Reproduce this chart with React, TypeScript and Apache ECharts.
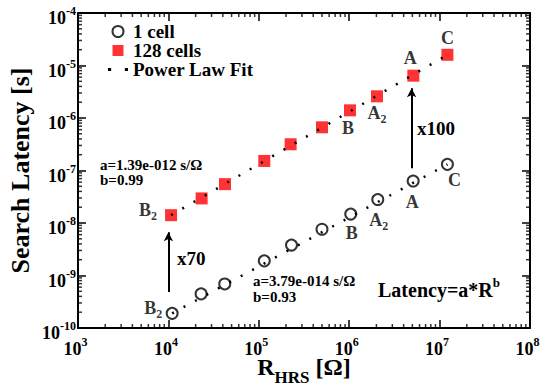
import React, { useEffect, useRef } from 'react';
import * as echarts from 'echarts';

// ---- data ----
const resistance1 = [1.1e4, 2.3e4, 4.2e4, 1.15e5, 2.3e5, 5.0e5, 1.04e6, 2.07e6, 5.1e6, 1.22e7];
const latency1 = [1.9e-10, 4.46e-10, 6.9e-10, 1.9e-9, 3.8e-9, 7.6e-9, 1.48e-8, 2.8e-8, 6.3e-8, 1.31e-7];
const resistance128 = [1.07e4, 2.33e4, 4.23e4, 1.15e5, 2.25e5, 5.0e5, 1.02e6, 2.03e6, 5.12e6, 1.22e7];
const latency128 = [1.41e-8, 2.94e-8, 5.5e-8, 1.52e-7, 3.16e-7, 6.65e-7, 1.4e-6, 2.59e-6, 6.4e-6, 1.6e-5];
const pointTags = ['B2', '', '', '', '', '', 'B', 'A2', 'A', 'C'];

// power-law fit end points
const fitR1 = [1.1e4, 1.22e7];
const fitLatency1 = [1.9e-10, 1.31e-7];
const fitR128 = [1.07e4, 1.22e7];
const fitLatency128 = [1.41e-8, 1.6e-5];

// arrows (x, from, to)
const arrowR = [1.0e4, 4.9e6];
const arrowFrom = [4.85e-10, 1.1e-7];
const arrowTo = [6.7e-9, 3.67e-6];

const xMin = 1e3;
const xMax = 1e8;
const yMin = 1e-10;
const yMax = 1e-4;

// tag label offsets (px) – style, not data
const tagOffset1: Record<string, number[]> = { B2: [-19, -5], B: [1, 19], A2: [1, 20], A: [-1, 21], C: [7, 16] };
const tagOffset128: Record<string, number[]> = { B2: [-23, -5], B: [-2, 18], A2: [0, 17], A: [-3, -18], C: [0, -17] };

const FONT = '"Liberation Serif", "Times New Roman", serif';

function tagText(t: string) {
  if (t.length === 2) return `{m|${t[0]}}{s|${t[1]}}`;
  return `{m|${t}}`;
}

const tagRich = {
  m: { fontSize: 18, fontWeight: 'bold', fontFamily: FONT, color: '#000', lineHeight: 24 },
  s: { fontSize: 12, fontWeight: 'bold', fontFamily: FONT, color: '#000', lineHeight: 12, verticalAlign: 'bottom' },
};

const yTickRich = {
  b: { fontSize: 18, fontWeight: 'bold', fontFamily: FONT, color: '#000', padding: [10, 0, 0, 0], verticalAlign: 'top' },
  e: { fontSize: 12, fontWeight: 'bold', fontFamily: FONT, color: '#000', padding: [6, 0, 0, 0], verticalAlign: 'top' },
};
const xTickRich = {
  b: { fontSize: 18, fontWeight: 'bold', fontFamily: FONT, color: '#000', padding: [10, 0, 0, 0], verticalAlign: 'top' },
  e: { fontSize: 12, fontWeight: 'bold', fontFamily: FONT, color: '#000', padding: [6, 5, 0, 0], verticalAlign: 'top' },
};

function powLabel(v: number) {
  const e = Math.round(Math.log10(v));
  return `{b|10}{e|${e}}`;
}

export default function App() {
  const ref = useRef<HTMLDivElement>(null);
  useEffect(() => {
    if (!ref.current) return;
    const chart = echarts.init(ref.current, undefined, { renderer: 'svg' });

    const minorX: number[] = [];
    for (let e = 3; e < 8; e++) for (let m = 2; m <= 9; m++) minorX.push(m * Math.pow(10, e));
    const minorY: number[] = [];
    for (let e = -10; e < -4; e++) for (let m = 2; m <= 9; m++) minorY.push(m * Math.pow(10, e));

    const tickSeries = (data: number[][], size: number[], offset: number[]) => ({
      type: 'scatter',
      silent: true,
      clip: false,
      symbol: 'rect',
      symbolSize: size,
      symbolOffset: offset,
      itemStyle: { color: '#000' },
      data,
      z: 2,
    });

    const makePoints = (rs: number[], ls: number[], offsets: Record<string, number[]>) =>
      rs.map((r, i) => {
        const t = pointTags[i];
        return {
          value: [r, ls[i]],
          label: t
            ? {
                show: true,
                position: 'inside',
                offset: offsets[t],
                formatter: tagText(t),
                rich: tagRich,
              }
            : { show: false },
        };
      });

    const axisCommon = {
      type: 'log',
      logBase: 10,
      axisLine: { show: true, lineStyle: { color: '#000', width: 2 } },
      axisTick: { show: true, inside: true, length: 8, lineStyle: { color: '#000', width: 1.5 } },
      splitLine: { show: false },
      nameMoveOverlap: false,
    };

    const labelCommon = {
      formatter: powLabel,
      color: '#000',
      fontWeight: 'bold',
      fontSize: 18,
      fontFamily: FONT,
    };

    const option: any = {
      animation: false,
      textStyle: { fontFamily: FONT },
      grid: { left: 78, top: 13, width: 452, height: 315, containLabel: false, outerBoundsMode: 'none' },
      legend: {
        orient: 'vertical',
        left: 103,
        top: 17,
        itemWidth: 20,
        itemHeight: 11,
        itemGap: 0,
        itemTextGap: 15,
        textStyle: { fontSize: 19, fontWeight: 'bold', fontFamily: FONT, color: '#000' },
        data: [
          { name: '1 cell', icon: 'circle' },
          { name: '128 cells', icon: 'path://M0,0h10v10h-10z' },
          { name: 'Power Law Fit', icon: 'path://M0,0h3v3h-3zM16,0h3v3h-3z', itemStyle: { color: '#000', borderWidth: 0 } },
        ],
      },
      xAxis: [
        {
          ...axisCommon,
          min: xMin,
          max: xMax,
          splitNumber: 5,
          position: 'bottom',
          axisLabel: { ...labelCommon, rich: xTickRich, margin: 2 },
          name: '{r|R}{s|HRS}{r| [Ω]}',
          nameLocation: 'middle',
          nameGap: 27,
          nameTextStyle: {
            rich: {
              r: { fontSize: 24, fontWeight: 'bold', fontFamily: FONT, color: '#000', padding: [0, 0, 7, 0], verticalAlign: 'top' },
              s: { fontSize: 17, fontWeight: 'bold', fontFamily: FONT, color: '#000', verticalAlign: 'bottom' },
            },
          },
        },
        {
          ...axisCommon,
          min: xMin,
          max: xMax,
          splitNumber: 5,
          position: 'top',
          axisLabel: { show: false },
        },
      ],
      yAxis: [
        {
          ...axisCommon,
          min: yMin,
          max: yMax,
          splitNumber: 6,
          position: 'left',
          axisLabel: { ...labelCommon, rich: yTickRich, margin: 2 },
          name: 'Search Latency [s]',
          nameLocation: 'middle',
          nameGap: 45,
          nameTextStyle: { fontSize: 26, fontWeight: 'bold', fontFamily: FONT, color: '#000' },
        },
        {
          ...axisCommon,
          min: yMin,
          max: yMax,
          splitNumber: 6,
          position: 'right',
          axisLabel: { show: false },
        },
      ],
      series: [
        {
          name: '1 cell',
          type: 'scatter',
          symbol: 'circle',
          symbolSize: 11,
          itemStyle: { color: '#fff', borderColor: '#000', borderWidth: 2 },
          data: makePoints(resistance1, latency1, tagOffset1),
          z: 3,
        },
        {
          name: '128 cells',
          type: 'scatter',
          symbol: 'rect',
          symbolSize: 12,
          itemStyle: { color: '#ff0000' },
          data: makePoints(resistance128, latency128, tagOffset128),
          z: 3,
        },
        {
          name: 'Power Law Fit',
          type: 'line',
          symbol: 'none',
          color: '#000',
          lineStyle: { color: '#000', width: 2.5, type: [2, 11] },
          data: fitR1.map((r, i) => [r, fitLatency1[i]]),
          z: 5,
          markLine: {
            silent: true,
            symbol: ['none', 'arrow'],
            symbolSize: [7, 9],
            label: { show: false },
            lineStyle: { color: '#000', width: 2, type: 'solid' },
            data: arrowR.map((r, i) => [
              { coord: [r, arrowFrom[i]] },
              { coord: [r, arrowTo[i]] },
            ]),
          },
        },
        {
          name: 'Power Law Fit',
          type: 'line',
          symbol: 'none',
          color: '#000',
          lineStyle: { color: '#000', width: 2.5, type: [2, 11] },
          data: fitR128.map((r, i) => [r, fitLatency128[i]]),
          z: 5,
        },
        // minor log ticks on all four sides
        tickSeries(minorX.map((v) => [v, yMin]), [1.5, 4], [0, -2]),
        tickSeries(minorX.map((v) => [v, yMax]), [1.5, 4], [0, 2]),
        tickSeries(minorY.map((v) => [xMin, v]), [4, 1.5], [2, 0]),
        tickSeries(minorY.map((v) => [xMax, v]), [4, 1.5], [-2, 0]),
      ],
      graphic: [
        { type: 'text', x: 100, y: 165, style: { text: 'a=1.39e-012 s/Ω', fontSize: 15, fontWeight: 'bold', fontFamily: FONT, fill: '#000', verticalAlign: 'middle' } },
        { type: 'text', x: 100, y: 180, style: { text: 'b=0.99', fontSize: 15, fontWeight: 'bold', fontFamily: FONT, fill: '#000', verticalAlign: 'middle' } },
        { type: 'text', x: 253, y: 281, style: { text: 'a=3.79e-014 s/Ω', fontSize: 15, fontWeight: 'bold', fontFamily: FONT, fill: '#000', verticalAlign: 'middle' } },
        { type: 'text', x: 253, y: 297, style: { text: 'b=0.93', fontSize: 15, fontWeight: 'bold', fontFamily: FONT, fill: '#000', verticalAlign: 'middle' } },
        { type: 'text', x: 177, y: 258, style: { text: 'x70', fontSize: 19, fontWeight: 'bold', fontFamily: FONT, fill: '#000', verticalAlign: 'middle' } },
        { type: 'text', x: 417, y: 128, style: { text: 'x100', fontSize: 19, fontWeight: 'bold', fontFamily: FONT, fill: '#000', verticalAlign: 'middle' } },
        {
          type: 'text',
          x: 378,
          y: 288,
          style: {
            text: '{m|Latency=a*R}{e|b}',
            verticalAlign: 'middle',
            rich: {
              m: { fontSize: 20, fontWeight: 'bold', fontFamily: FONT, fill: '#000', padding: [4, 0, 0, 0], verticalAlign: 'top' },
              e: { fontSize: 13, fontWeight: 'bold', fontFamily: FONT, fill: '#000', verticalAlign: 'top' },
            },
          },
        },
      ],
    };

    chart.setOption(option);
    return () => chart.dispose();
  }, []);

  return <div ref={ref} style={{ position: 'absolute', left: 0, top: 0, width: 543, height: 389, background: '#fff' }} />;
}
